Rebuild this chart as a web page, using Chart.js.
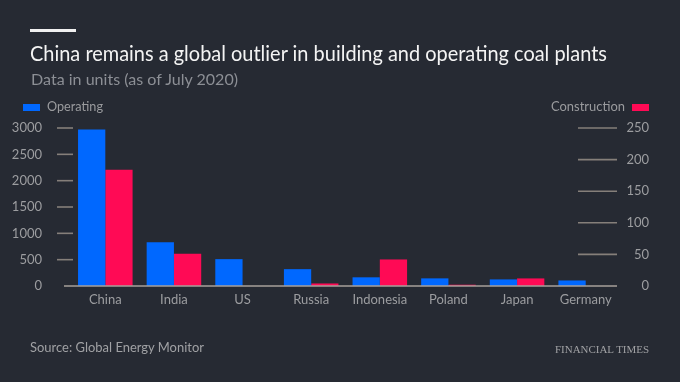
<!DOCTYPE html>
<html><head><meta charset="utf-8">
<script src="https://cdn.jsdelivr.net/npm/chart.js@4.4.1/dist/chart.umd.min.js"></script>
<style>
html,body{margin:0;padding:0;background:#262a33;}
#wrap{position:relative;width:680px;height:382px;overflow:hidden;background:#262a33;font-family:Lato,"Open Sans",sans-serif;}
#c{position:absolute;left:0;top:0;}
.t{position:absolute;white-space:nowrap;transform-origin:0 0;line-height:1;}
.sw{position:absolute;}
</style></head><body>
<div id="wrap">
<canvas id="c" width="680" height="382"></canvas>
<div style="position:absolute;left:30px;top:29px;width:46px;height:3px;background:#f0f0f0"></div>
<div class="t" data-w="577" style="left:30px;top:42px;font-size:21px;color:#f4f4f4">China remains a global outlier in building and operating coal plants</div>
<div class="t" data-w="207" style="left:31px;top:71px;font-size:16px;color:#8c8f95">Data in units (as of July 2020)</div>
<div class="sw" style="left:23px;top:104px;width:17px;height:7px;background:#0068ff"></div>
<div class="t" data-w="56" style="left:47px;top:99px;font-size:14px;color:#9a9b9e">Operating</div>
<div class="t" data-w="74" style="left:551px;top:99px;font-size:14px;color:#9a9b9e">Construction</div>
<div class="sw" style="left:632px;top:104px;width:17px;height:7px;background:#ff0a55"></div>
<div class="t" data-w="174" style="left:30px;top:341px;font-size:13px;color:#a0a1a4">Source: Global Energy Monitor</div>
<div class="t" data-w="94" style="left:555px;top:344px;font-size:11px;color:#a0a1a4;font-family:'Liberation Serif',serif">FINANCIAL TIMES</div>
</div>
<script>
const categories = ['China','India','US','Russia','Indonesia','Poland','Japan','Germany'];
const operating = [2970, 830, 510, 320, 165, 145, 125, 105];
const construction = [184, 51, null, 4, 42, 2, 12, null];
const leftTicks = [0, 500, 1000, 1500, 2000, 2500, 3000];
const rightTicks = [0, 50, 100, 150, 200, 250];

const tickCol = '#9c9da0';
const tickFont = {family: 'Lato', size: 13};

const marks = {
  id: 'marks',
  afterDatasetsDraw(chart) {
    const {ctx, scales: {y, y1}} = chart;
    ctx.save();
    ctx.strokeStyle = '#857f7a';
    ctx.lineWidth = 1.6;
    y.ticks.forEach(t => {
      if (t.value === 0) return;
      const py = y.getPixelForValue(t.value);
      ctx.beginPath(); ctx.moveTo(57, py); ctx.lineTo(73, py); ctx.stroke();
    });
    y1.ticks.forEach(t => {
      if (t.value === 0) return;
      const py = y1.getPixelForValue(t.value);
      ctx.beginPath(); ctx.moveTo(578, py); ctx.lineTo(617, py); ctx.stroke();
    });
    ctx.strokeStyle = '#a7a19b';
    const z = y.getPixelForValue(0);
    ctx.beginPath(); ctx.moveTo(64, z); ctx.lineTo(617, z); ctx.stroke();
    ctx.restore();
  }
};

new Chart(document.getElementById('c'), {
  type: 'bar',
  data: {
    labels: categories,
    datasets: [
      {label: 'Operating', data: operating, backgroundColor: '#0068ff', yAxisID: 'y', barPercentage: 1, categoryPercentage: 0.795},
      {label: 'Construction', data: construction, backgroundColor: '#ff0a55', yAxisID: 'y1', barPercentage: 1, categoryPercentage: 0.795}
    ]
  },
  options: {
    responsive: false, animation: false, devicePixelRatio: 1,
    layout: {padding: {top: 128, left: 0, right: 31, bottom: 0}},
    plugins: {legend: {display: false}, tooltip: {enabled: false}, title: {display: false}},
    scales: {
      x: {
        grid: {display: false, drawTicks: false}, border: {display: false},
        ticks: {color: tickCol, font: tickFont, padding: 6, maxRotation: 0, autoSkip: false},
        afterFit: s => { s.height = 96; }
      },
      y: {
        position: 'left', min: 0, max: 3000,
        afterBuildTicks: s => { s.ticks = leftTicks.map(v => ({value: v})); },
        grid: {display: false, drawTicks: false}, border: {display: false},
        ticks: {color: tickCol, font: tickFont, padding: 29, callback: v => String(v)},
        afterFit: s => { s.width = 71; }
      },
      y1: {
        position: 'right', min: 0, max: 250,
        afterBuildTicks: s => { s.ticks = rightTicks.map(v => ({value: v})); },
        grid: {display: false, drawTicks: false}, border: {display: false},
        ticks: {color: tickCol, font: tickFont, padding: 0, crossAlign: 'far', callback: v => String(v)},
        afterFit: s => { s.width = 29; }
      }
    }
  },
  plugins: [marks]
});

document.querySelectorAll('[data-w]').forEach(el => {
  const w = el.getBoundingClientRect().width;
  el.style.transform = 'scaleX(' + (el.dataset.w / w) + ')';
});
</script>
</body></html>
